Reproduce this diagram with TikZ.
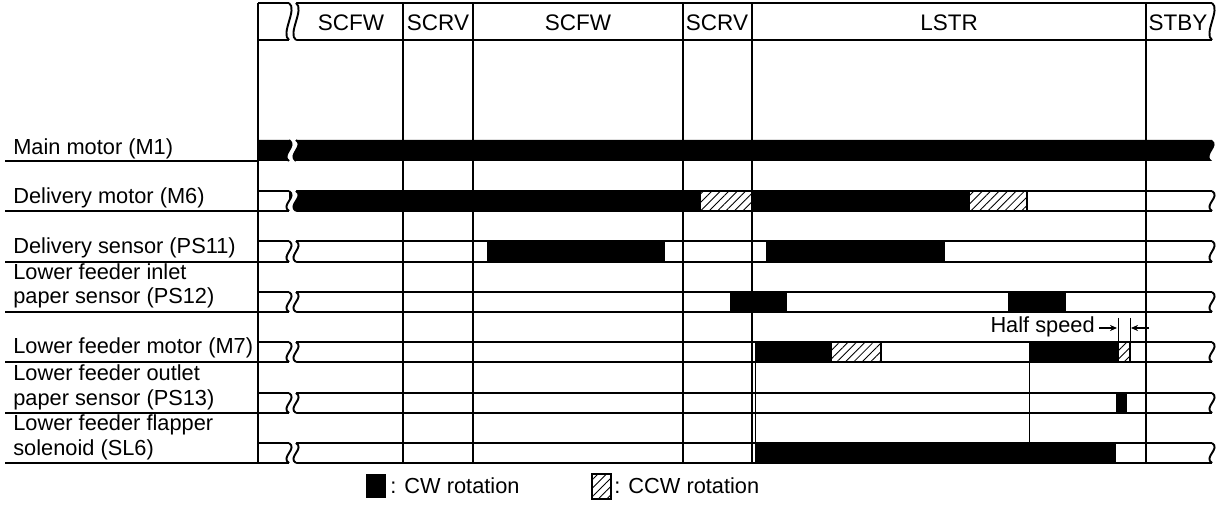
\documentclass[tikz,border=0pt]{standalone}
\usepackage{fontspec}
\setmainfont{Liberation Sans}
\usetikzlibrary{arrows.meta, patterns.meta}
\tikzset{
    grid/.style={line width=1.1pt},
    band/.style={line width=1.1pt},
    fine/.style={line width=0.5pt},
    cw/.style={fill=black},
    ccw/.style={draw=black, line width=0.6pt,
                pattern={Lines[angle=45, distance=3.4pt, line width=0.5pt]}},
    sig/.style={anchor=base west, inner sep=0pt, align=left,
                font=\fontsize{12.4}{13.8}\selectfont},
    phase/.style={anchor=base, inner sep=0pt,
                  font=\fontsize{12.8}{14}\selectfont},
    arr/.style={-{Stealth[length=4pt, width=3.5pt]}, line width=0.6pt},
    pics/brk/.style={code={
        \fill[white] (0,-2) -- (0,0) .. controls (9,6) and (-9,#1-6) .. (0,#1)
            -- (0,#1+2) -- (7,#1+2) -- (7,#1)
            .. controls (-2,#1-6) and (16,6) .. (7,0) -- (7,-2) -- cycle;
        \draw[band] (0,0) .. controls (9,6) and (-9,#1-6) .. (0,#1);
        \draw[band] (7,0) .. controls (16,6) and (-2,#1-6) .. (7,#1);
    }},
    pics/wave/.style={code={
        \draw[band] (0,0) .. controls (9,6) and (-9,#1-6) .. (0,#1);
    }},
}

\begin{document}
\begin{tikzpicture}[x=0.02cm, y=-0.02cm]
    \useasboundingbox (0,0) rectangle (1220,506);

    % Sequence header
    \draw[band] (258,3) -- (1212,3);
    \draw[band] (258,40) -- (1212,40);
    \node[phase] (scfw1) at (351,31) {SCFW};
    \node[phase] (scrv1) at (438,31) {SCRV};
    \node[phase] (scfw2) at (578,31) {SCFW};
    \node[phase] (scrv2) at (717,31) {SCRV};
    \node[phase] (lstr) at (949,31) {LSTR};
    \node[phase] (stby) at (1178,31) {STBY};

    % Period borders
    \draw[grid] (258,3) -- (258,463);
    \draw[grid] (403,3) -- (403,463);
    \draw[grid] (473,3) -- (473,463);
    \draw[grid] (683,3) -- (683,463);
    \draw[grid] (752,3) -- (752,463);
    \draw[grid] (1146,3) -- (1146,463);
    \pic at (289,3) {brk=37};
    \pic at (1212,3) {wave=37};

    % Main motor (M1)
    \node[sig] (m1) at (13,155) {Main motor (M1)};
    \fill[cw] (258,140) -- (1212,140) .. controls (1221,146) and (1203,155)
        .. (1212,161) -- (258,161) -- cycle;
    \draw[band] (5,161) -- (258,161);
    \pic at (289,140) {brk=21};

    % Delivery motor (M6)
    \node[sig] (m6) at (13,204) {Delivery motor (M6)};
    \fill[cw] (289,191) rectangle (700,211);
    \draw[ccw] (700,191) rectangle (753,211);
    \fill[cw] (753,191) rectangle (969,211);
    \draw[ccw] (969,191) rectangle (1027,211);
    \draw[band] (258,191) -- (1212,191);
    \draw[band] (5,211) -- (1212,211);
    \pic at (289,191) {brk=20};
    \pic at (1212,191) {wave=20};

    % Delivery sensor (PS11)
    \node[sig] (ps11) at (13,254) {Delivery sensor (PS11)};
    \fill[cw] (487,241) rectangle (665,262);
    \fill[cw] (766,241) rectangle (945,262);
    \draw[band] (258,241) -- (1212,241);
    \draw[band] (5,262) -- (1212,262);
    \pic at (289,241) {brk=21};
    \pic at (1212,241) {wave=21};

    % Lower feeder inlet paper sensor (PS12)
    \node[sig] (ps12) at (13,304) {Lower feeder inlet\\paper sensor (PS12)};
    \fill[cw] (730,292) rectangle (787,312);
    \fill[cw] (1008,292) rectangle (1066,312);
    \draw[band] (258,292) -- (1212,292);
    \draw[band] (5,312) -- (1212,312);
    \pic at (289,292) {brk=20};
    \pic at (1212,292) {wave=20};

    % Lower feeder motor (M7)
    \node[sig] (m7) at (13,354) {Lower feeder motor (M7)};
    \fill[cw] (755,342) rectangle (831,362);
    \draw[ccw] (831,342) rectangle (881,362);
    \fill[cw] (1029,342) rectangle (1118,362);
    \draw[ccw] (1118,342) rectangle (1130,362);
    \draw[band] (258,342) -- (1212,342);
    \draw[band] (5,362) -- (1212,362);
    \pic at (289,342) {brk=20};
    \pic at (1212,342) {wave=20};

    % Half speed
    \node[sig, anchor=base east] (half) at (1095,333) {Half speed};
    \draw[fine] (1118,318) -- (1118,342);
    \draw[fine] (1130,318) -- (1130,342);
    \coordinate (hsl) at (1099,328);
    \coordinate (hsa) at (1117,328);
    \coordinate (hsr) at (1149,328);
    \coordinate (hsb) at (1131,328);
    \draw[arr] (hsl) -- (hsa);
    \draw[arr] (hsr) -- (hsb);

    % Lower feeder outlet paper sensor (PS13)
    \node[sig] (ps13) at (13,405) {Lower feeder outlet\\paper sensor (PS13)};
    \fill[cw] (1116,393) rectangle (1127,413);
    \draw[band] (258,393) -- (1212,393);
    \draw[band] (5,413) -- (1212,413);
    \pic at (289,393) {brk=20};
    \pic at (1212,393) {wave=20};

    % Lower feeder flapper solenoid (SL6)
    \node[sig] (sl6) at (13,455) {Lower feeder flapper\\solenoid (SL6)};
    \fill[cw] (755,443) rectangle (1116,463);
    \draw[band] (258,443) -- (1212,443);
    \draw[band] (5,463) -- (1212,463);
    \pic at (289,443) {brk=20};
    \pic at (1212,443) {wave=20};

    % Timing marks
    \draw[fine] (755,362) -- (755,443);
    \draw[fine] (1029,362) -- (1029,443);

    % Legend
    \fill[cw] (366,474) rectangle (386,498);
    \node[sig] (cwkey) at (390,493) {: CW rotation};
    \draw[ccw] (592,474) rectangle (611,499);
    \node[sig] (ccwkey) at (614,493) {: CCW rotation};
\end{tikzpicture}
\end{document}
